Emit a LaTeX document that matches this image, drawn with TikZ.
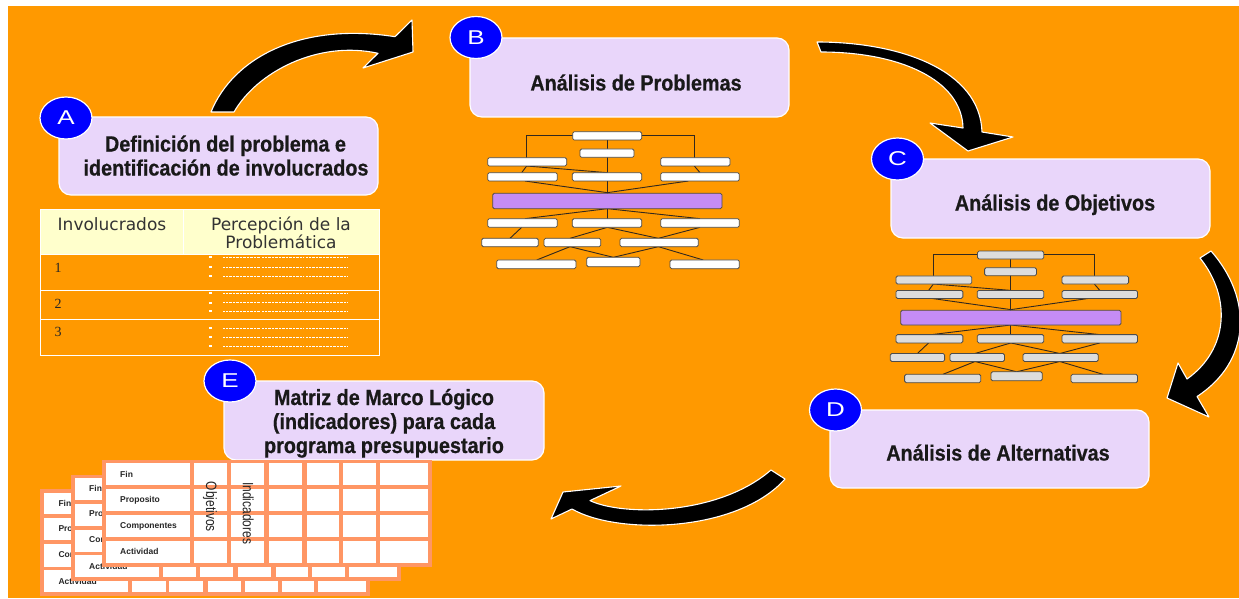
\documentclass[tikz,border=0pt]{standalone}
\usepackage{fontspec}
\usetikzlibrary{shapes.geometric}
\setmainfont{Liberation Sans}
\newfontfamily\lblfont[FakeStretch=0.9,FakeBold=0.6]{Liberation Sans}
\newfontfamily\badgefont[FakeStretch=1.3]{Liberation Sans}
\newfontfamily\tabfont{DejaVu Sans}
\newfontfamily\numfont{Liberation Serif}
\newfontfamily\narrowfont[FakeStretch=0.8]{Liberation Sans}
\definecolor{bgorange}{RGB}{255,153,0}
\definecolor{lav}{RGB}{233,214,250}
\definecolor{badgeblue}{RGB}{0,0,255}
\definecolor{hdryellow}{RGB}{255,255,204}
\definecolor{salmon}{RGB}{255,150,100}
\definecolor{treepurple}{RGB}{197,140,245}
\definecolor{treegray}{RGB}{221,221,221}
\definecolor{treeline}{RGB}{50,40,30}
\tikzset{
  stepbox/.style={draw=white, line width=1.2pt, fill=lav, rounded corners=12pt, inner sep=0pt},
  badge/.style={ellipse, draw=white, line width=1.2pt, fill=badgeblue, minimum width=52pt, minimum height=42pt, inner sep=0pt, text=white, font=\badgefont\fontsize{20}{20}\selectfont},
  lbl/.style={font=\lblfont\bfseries\fontsize{22}{25}\selectfont, text=black!90, inner sep=0pt},
  bigarrow/.style={fill=black, draw=white, line width=1.1pt, line join=round},
  tline/.style={draw=treeline, line width=0.9pt},
  tnode/.style={draw=black!70, line width=0.8pt, rounded corners=1.5pt},
  hdrtxt/.style={font=\tabfont\fontsize{17}{19}\selectfont, text=black!80, inner sep=0pt},
  numtxt/.style={font=\numfont\fontsize{14}{14}\selectfont, text=black!85, inner sep=0pt},
  mxlbl/.style={font=\bfseries\fontsize{8.5}{10}\selectfont, text=black!85, anchor=west, inner sep=0pt},
  mxrot/.style={font=\narrowfont\fontsize{15}{15}\selectfont, text=black!85, rotate=-90, inner sep=0pt},
}
\newcommand\drawtree[1]{%
  \draw[tline] (308,47) -- (170,47) -- (170,113);
  \draw[tline] (515,47) -- (673,47) -- (673,113);
  \draw[tline] (412,60) -- (412,296);
  \draw[tline] (170,138) -- (155,158);
  \draw[tline] (170,138) -- (412,158);
  \draw[tline] (673,138) -- (690,158);
  \draw[tline] (165,183) -- (412,218);
  \draw[tline] (655,183) -- (412,218);
  \draw[tline] (412,266) -- (165,296);
  \draw[tline] (412,266) -- (690,296);
  \draw[tline] (155,322) -- (120,355);
  \draw[tline] (412,322) -- (300,355);
  \draw[tline] (412,322) -- (565,355);
  \draw[tline] (690,322) -- (565,355);
  \draw[tline] (300,380) -- (200,420);
  \draw[tline] (300,380) -- (430,412);
  \draw[tline] (565,380) -- (430,412);
  \draw[tline] (565,380) -- (700,420);
  \foreach \a/\b/\c/\d in {308/35/515/60, 330/87/492/112, 53/113/290/138, 572/113/780/138,
      53/158/262/183, 307/158/515/183, 572/158/808/183,
      53/296/262/322, 307/296/515/322, 572/296/808/322,
      35/355/205/380, 222/355/392/380, 450/355/685/380,
      80/420/318/446, 350/412/510/440, 600/420/808/446}
    {\draw[tnode, fill=#1] (\a,\b) rectangle (\c,\d);}
  \draw[tnode, fill=treepurple] (68,220) rectangle (756,266);
}
\newcommand\mxsheet[3]{%
  \begin{scope}[shift={(#2,#3)}]
    \fill[salmon] (0,0) rectangle (330,106.5);
    \foreach \xa/\xb in {4.3/88.3, 92.3/125.6, 129.3/162.6, 167.6/200.6, 205/237.6, 241.6/274.3, 278.3/326}
      {\foreach \ya/\yb in {3.3/25, 29/51, 55/77.3, 80.7/102.7}
        {\fill[white] (\xa,\ya) rectangle (\xb,\yb);}}
    \node[mxlbl] (#1fin) at (18.3,14) {Fin};
    \node[mxlbl] (#1pro) at (18.3,40) {Proposito};
    \node[mxlbl] (#1com) at (18.3,66) {Componentes};
    \node[mxlbl] (#1act) at (18.3,91.7) {Actividad};
    \node[mxrot] (#1obj) at (108.3,46.7) {Objetivos};
    \node[mxrot] (#1ind) at (146.6,53.3) {Indicadores};
  \end{scope}}
\begin{document}
\begin{tikzpicture}[x=1pt,y=-1pt]
\useasboundingbox (0,0) rectangle (1239,599);
\fill[white] (0,0) rectangle (1239,599);
\fill[bgorange] (8,6) rectangle (1239,598);

% curved block arrows
\draw[bigarrow] (211,112) .. controls (233,58) and (300,22) .. (395,36.7) -- (412,20) -- (413,52) -- (363,68) -- (378,53.3) .. controls (318,40) and (257,72) .. (234,112) -- cycle;
\draw[bigarrow] (817,42) .. controls (900,42) and (980,70) .. (982,132) -- (1013,137) -- (968,151) -- (930,123) -- (963,128) .. controls (962,80) and (900,52) .. (821,52) -- cycle;
\draw[bigarrow] (1211,251) .. controls (1254,300) and (1250,362) .. (1197,396.5) -- (1209,417) -- (1167,398) -- (1178,363) -- (1187,379) .. controls (1228,350) and (1232,298) .. (1200,258) -- cycle;
\draw[bigarrow] (785,479) .. controls (737,533) and (617,535) .. (572,509) -- (551,519) -- (563,492) -- (621,486) -- (590,500.6) .. controls (622,516) and (718,516) .. (771,470) -- cycle;

% step boxes
\node[stepbox, minimum width=319pt, minimum height=78pt] (boxA) at (218.5,156) {};
\node[stepbox, minimum width=319pt, minimum height=79pt] (boxB) at (629.5,77.5) {};
\node[stepbox, minimum width=319pt, minimum height=79pt] (boxC) at (1050.5,198.5) {};
\node[stepbox, minimum width=319pt, minimum height=78pt] (boxD) at (989.5,449) {};
\node[stepbox, minimum width=320pt, minimum height=79pt] (boxE) at (384,420.5) {};

\node[lbl, anchor=base] (tA1) at (225.5,151.5) {Definición del problema e};
\node[lbl, anchor=base] (tA2) at (226,175.5) {identificación de involucrados};
\node[lbl, anchor=base] (tB) at (636,90.5) {Análisis de Problemas};
\node[lbl, anchor=base] (tC) at (1055,210.5) {Análisis de Objetivos};
\node[lbl, anchor=base] (tD) at (998,460.5) {Análisis de Alternativas};
\node[lbl, anchor=base] (tE1) at (384,405) {Matriz de Marco Lógico};
\node[lbl, anchor=base] (tE2) at (384,429) {(indicadores) para cada};
\node[lbl, anchor=base] (tE3) at (384,453) {programa presupuestario};

\node[badge] (bA) at (66,118) {A};
\node[badge] (bB) at (476,37.5) {B};
\node[badge] (bC) at (897.5,159) {C};
\node[badge] (bD) at (835.5,410) {D};
\node[badge] (bE) at (230,381) {E};

% problem / objective trees
\begin{scope}[shift={(470,120)}, scale=0.33333]
  \drawtree{white}
\end{scope}
\begin{scope}[shift={(879,239.8)}, xscale=0.32, yscale=0.3203]
  \drawtree{treegray}
\end{scope}

% stakeholder table
\fill[hdryellow] (40,209) rectangle (379,254);
\draw[white, line width=0.8pt] (40,209) rectangle (379,355);
\draw[white, line width=0.8pt] (40,254) -- (379,254) (40,290) -- (379,290) (40,319) -- (379,319) (183,209) -- (183,254);
\node[hdrtxt, anchor=base] (hInv) at (112,230) {Involucrados};
\node[hdrtxt, anchor=base] (hPer1) at (281,230) {Percepción de la};
\node[hdrtxt, anchor=base] (hPer2) at (281,248.3) {Problemática};
\node[numtxt, anchor=base] (n1) at (58,272.7) {1};
\node[numtxt, anchor=base] (n2) at (58,308.3) {2};
\node[numtxt, anchor=base] (n3) at (58,336.7) {3};
\foreach \y in {257,267,276,293,302.7,311,328,337,346}{
  \fill[white] (209,\y-1.2) rectangle (211.5,\y+1.2);
  \draw[white, line width=0.6pt, dash pattern=on 0.8pt off 0.6pt] (223,\y) -- (260,\y) (262,\y) -- (304,\y) (306,\y) -- (347,\y);
}

% logical framework matrices
\mxsheet{s3}{40}{489.3}
\mxsheet{s2}{70.7}{474.7}
\mxsheet{s1}{101.7}{460}
\end{tikzpicture}
\end{document}
